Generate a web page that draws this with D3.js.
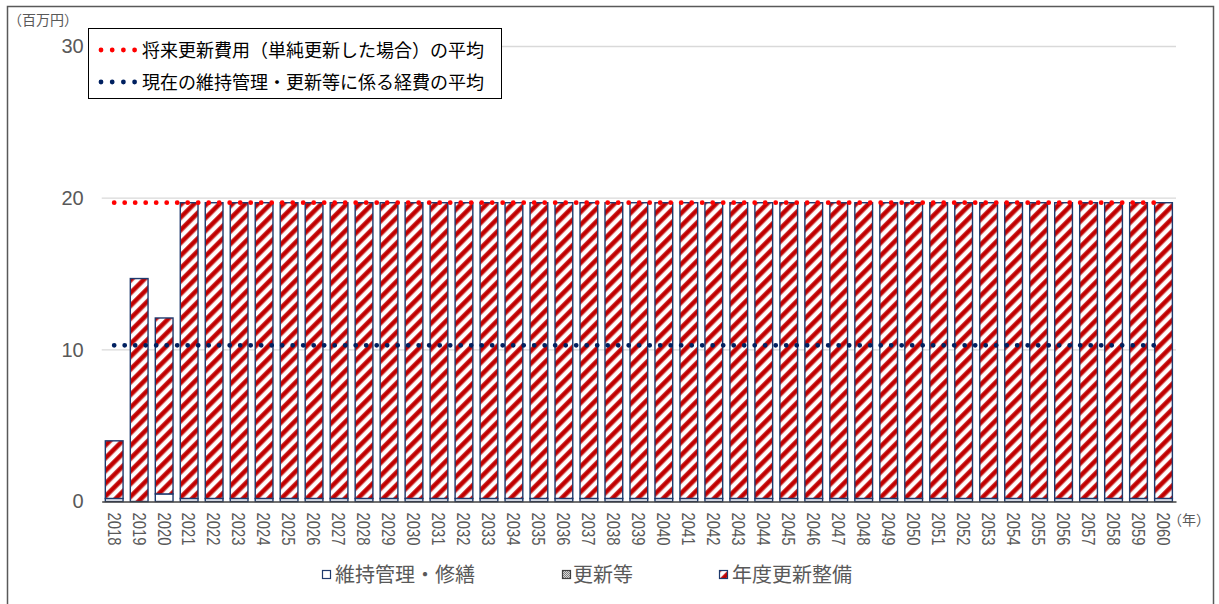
<!DOCTYPE html>
<html lang="ja">
<head>
<meta charset="utf-8">
<script src="https://cdn.jsdelivr.net/npm/d3@7"></script>
<style>
  body { margin: 0; background: #fff; }
  svg { display: block; }
</style>
</head>
<body>
<svg id="chart" width="1219" height="604"></svg>
<script>
// 年度（横軸）
const years = ["2018","2019","2020","2021","2022","2023","2024","2025","2026","2027",
  "2028","2029","2030","2031","2032","2033","2034","2035","2036","2037",
  "2038","2039","2040","2041","2042","2043","2044","2045","2046","2047",
  "2048","2049","2050","2051","2052","2053","2054","2055","2056","2057",
  "2058","2059","2060"];

// 維持管理・修繕（百万円）
const maintenance = [0.2, 0.0, 0.5, 0.2, 0.2, 0.2, 0.2, 0.2, 0.2, 0.2,
  0.2, 0.2, 0.2, 0.2, 0.2, 0.2, 0.2, 0.2, 0.2, 0.2,
  0.2, 0.2, 0.2, 0.2, 0.2, 0.2, 0.2, 0.2, 0.2, 0.2,
  0.2, 0.2, 0.2, 0.2, 0.2, 0.2, 0.2, 0.2, 0.2, 0.2,
  0.2, 0.2, 0.2];

// 更新等（百万円）
const renewal = [0, 0, 0, 0, 0, 0, 0, 0, 0, 0,
  0, 0, 0, 0, 0, 0, 0, 0, 0, 0,
  0, 0, 0, 0, 0, 0, 0, 0, 0, 0,
  0, 0, 0, 0, 0, 0, 0, 0, 0, 0,
  0, 0, 0];

// 年度更新整備（百万円）
const yearlyRenewal = [3.8, 14.7, 11.6, 19.5, 19.5, 19.5, 19.5, 19.5, 19.5, 19.5,
  19.5, 19.5, 19.5, 19.5, 19.5, 19.5, 19.5, 19.5, 19.5, 19.5,
  19.5, 19.5, 19.5, 19.5, 19.5, 19.5, 19.5, 19.5, 19.5, 19.5,
  19.5, 19.5, 19.5, 19.5, 19.5, 19.5, 19.5, 19.5, 19.5, 19.5,
  19.5, 19.5, 19.5];

// 平均線（百万円）
const futureAverage = 19.7;
const currentAverage = 10.3;

const yTicks = [0, 10, 20, 30];
const seriesNames = ["維持管理・修繕", "更新等", "年度更新整備"];
const averageNames = ["将来更新費用（単純更新した場合）の平均", "現在の維持管理・更新等に係る経費の平均"];
const unitLabel = "（百万円）";
const yearLabel = "（年）";

const CJK = "'Noto Sans CJK JP', 'Noto Sans', sans-serif";
const NUM = "'Liberation Sans', Arial, sans-serif";
const NAVY = "#1F3A6E";

const svg = d3.select("#chart");
const defs = svg.append("defs");

// 斜線ハッチ（年度更新整備）
const stripe = defs.append("pattern")
  .attr("id", "stripe")
  .attr("patternUnits", "userSpaceOnUse")
  .attr("width", 9).attr("height", 9)
  .attr("patternTransform", "rotate(45)");
stripe.append("rect").attr("width", 9).attr("height", 9).attr("fill", "#fff");
stripe.append("rect").attr("x", -0.4).attr("width", 5.6).attr("height", 9).attr("fill", "#E8A0A0");
stripe.append("rect").attr("x", 0.3).attr("width", 4.2).attr("height", 9).attr("fill", "#C00000");

// 網掛け（更新等）
const dots = defs.append("pattern")
  .attr("id", "dots")
  .attr("patternUnits", "userSpaceOnUse")
  .attr("width", 2).attr("height", 2);
dots.append("rect").attr("width", 2).attr("height", 2).attr("fill", "#D9D9D9");
dots.append("rect").attr("width", 1).attr("height", 1).attr("fill", "#7F7F7F");
dots.append("rect").attr("x", 1).attr("y", 1).attr("width", 1).attr("height", 1).attr("fill", "#7F7F7F");

// 外枠
svg.append("rect")
  .attr("x", 7.5).attr("y", 6.5)
  .attr("width", 1206).attr("height", 640)
  .attr("fill", "none").attr("stroke", "#595959").attr("stroke-width", 1.5);

// スケール
const x = d3.scaleBand()
  .domain(years)
  .range([101.7, 1176])
  .paddingInner(0.29)
  .paddingOuter(0.145);
const y = d3.scaleLinear().domain([0, 30]).range([501.5, 46.5]);

// 目盛線
svg.append("g")
  .selectAll("line")
  .data(yTicks.filter(d => d > 0))
  .join("line")
  .attr("x1", 101.7).attr("x2", 1176)
  .attr("y1", d => y(d)).attr("y2", d => y(d))
  .attr("stroke", "#D9D9D9").attr("stroke-width", 1.3);

// 縦軸
svg.append("g")
  .attr("transform", "translate(101.7,0)")
  .call(d3.axisLeft(y).tickValues(yTicks).tickSize(0).tickPadding(18))
  .call(g => g.select(".domain").remove())
  .selectAll("text")
  .attr("font-size", 20)
  .attr("font-family", NUM)
  .attr("fill", "#595959");

svg.append("text")
  .attr("x", 8).attr("y", 25)
  .attr("font-family", CJK).attr("font-size", 14)
  .attr("fill", "#595959")
  .text(unitLabel);

// 積み上げ棒
const rows = years.map((yr, i) => ({
  year: yr,
  maintenance: maintenance[i],
  renewal: renewal[i],
  yearly: yearlyRenewal[i]
}));
const keys = ["maintenance", "renewal", "yearly"];
const fills = ["#fff", "url(#dots)", "url(#stripe)"];
const layers = d3.stack().keys(keys)(rows);

svg.append("g")
  .selectAll("g")
  .data(layers)
  .join("g")
  .attr("fill", (d, i) => fills[i])
  .selectAll("rect")
  .data(d => d.filter(s => s[1] - s[0] > 0))
  .join("rect")
  .attr("x", d => x(d.data.year))
  .attr("width", x.bandwidth())
  .attr("y", d => y(d[1]))
  .attr("height", d => y(d[0]) - y(d[1]))
  .attr("stroke", NAVY)
  .attr("stroke-width", 1.4);

// 横軸
const xAxis = svg.append("g")
  .attr("transform", `translate(0,${y(0)})`)
  .call(d3.axisBottom(x).tickSize(0));
xAxis.select(".domain").attr("stroke", "#404040").attr("stroke-width", 1.3);
xAxis.selectAll("text")
  .attr("font-size", 19)
  .attr("font-family", NUM)
  .attr("fill", "#595959")
  .attr("text-anchor", "start")
  .attr("x", 11).attr("y", 0)
  .attr("dy", "0.35em")
  .attr("textLength", 33)
  .attr("lengthAdjust", "spacingAndGlyphs")
  .attr("transform", "rotate(90)");

svg.append("text")
  .attr("x", 1168).attr("y", 525)
  .attr("font-family", CJK).attr("font-size", 14)
  .attr("fill", "#595959")
  .text(yearLabel);

// 平均線（点線）
const first = x(years[0]) + x.bandwidth() / 2;
const last = x(years[years.length - 1]) + x.bandwidth() / 2;
const line = d3.line();
const averages = [
  { value: futureAverage, color: "#FF0000" },
  { value: currentAverage, color: "#002060" }
];
svg.append("g")
  .selectAll("path")
  .data(averages)
  .join("path")
  .attr("d", d => line([[first, y(d.value)], [last, y(d.value)]]))
  .attr("fill", "none")
  .attr("stroke", d => d.color)
  .attr("stroke-width", 4.8)
  .attr("stroke-linecap", "round")
  .attr("stroke-dasharray", "0 10.5");

// 凡例（平均線）
const topLegend = svg.append("g");
topLegend.append("rect")
  .attr("x", 88.5).attr("y", 28.5)
  .attr("width", 413).attr("height", 70)
  .attr("fill", "#fff").attr("stroke", "#000").attr("stroke-width", 1);
const topItems = topLegend.selectAll("g")
  .data(averages.map((d, i) => ({ ...d, name: averageNames[i], cy: 50 + i * 32 })))
  .join("g");
topItems.append("path")
  .attr("d", d => line([[101, d.cy], [136, d.cy]]))
  .attr("stroke", d => d.color)
  .attr("stroke-width", 4.8)
  .attr("stroke-linecap", "round")
  .attr("stroke-dasharray", "0 11.2");
topItems.append("text")
  .attr("x", 142).attr("y", d => d.cy + 7)
  .attr("font-family", CJK).attr("font-size", 18)
  .attr("fill", "#000")
  .text(d => d.name);

// 凡例（系列）
const bottomLegend = svg.append("g");
const legendPos = [
  { mx: 322, tx: 335 },
  { mx: 562, tx: 573 },
  { mx: 719, tx: 732 }
];
const bItems = bottomLegend.selectAll("g")
  .data(seriesNames.map((name, i) => ({ name, fill: fills[i], ...legendPos[i] })))
  .join("g");
bItems.append("rect")
  .attr("x", d => d.mx + 0.5).attr("y", 570.5)
  .attr("width", 8).attr("height", 8)
  .attr("fill", d => d.fill)
  .attr("stroke", (d, i) => i === 1 ? "#404040" : NAVY)
  .attr("stroke-width", 1.2);
bItems.append("text")
  .attr("x", d => d.tx).attr("y", 582)
  .attr("font-family", CJK).attr("font-size", 20)
  .attr("fill", "#595959")
  .text(d => d.name);
</script>
</body>
</html>
